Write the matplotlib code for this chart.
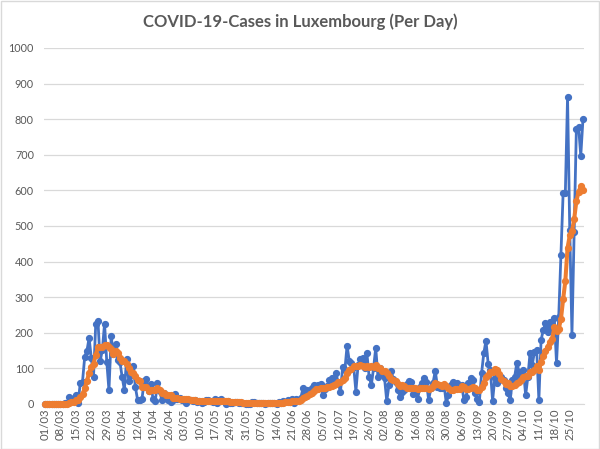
import matplotlib
matplotlib.use('Agg')
import matplotlib.pyplot as plt
from matplotlib.patches import Rectangle
import numpy as np

# Daily new cases (blue), 01/03 .. 31/10
cases_mar = [0, 0, 0, 0, 1, 0, 1, 1, 0, 2, 2, 19, 8, 17, 26, 4, 59, 63, 132, 149, 186, 128, 77, 224, 234, 120, 152, 226, 119, 38, 190]
cases_apr = [141, 168, 125, 117, 75, 39, 127, 64, 81, 108, 47, 11, 11, 15, 66, 71, 36, 57, 13, 8, 60, 36, 11, 30, 16, 12, 6, 12, 28, 15]
cases_may = [18, 10, 12, 4, 12, 11, 8, 12, 6, 9, 2, 6, 10, 11, 8, 7, 15, 2, 11, 13, 9, 1, 9, 3, 2, 6, 7, 4, 4, 2, 1]
cases_jun = [0, 1, 5, 6, 3, 2, 4, 2, 1, 4, 2, 4, 3, 1, 5, 3, 8, 6, 12, 7, 13, 4, 14, 12, 17, 44, 33, 39, 30, 46]
cases_jul = [53, 48, 52, 55, 25, 42, 50, 67, 72, 58, 86, 60, 33, 105, 96, 164, 121, 114, 105, 35, 110, 126, 130, 100, 142, 77, 53, 100, 158, 77, 100]
cases_aug = [85, 72, 8, 53, 92, 70, 63, 40, 21, 35, 40, 55, 65, 63, 27, 35, 13, 48, 60, 72, 63, 11, 44, 60, 93, 49, 44, 45, 53, 2, 25]
cases_sep = [53, 63, 49, 58, 45, 53, 11, 20, 58, 72, 67, 30, 15, 6, 86, 142, 178, 113, 95, 9, 72, 60, 67, 76, 67, 44, 30, 11, 67, 76]
cases_oct = [116, 91, 80, 95, 25, 76, 144, 110, 147, 153, 11, 180, 208, 227, 203, 231, 213, 242, 115, 245, 418, 593, 593, 862, 489, 195, 484, 772, 779, 697, 800]

# 7-day average (orange)
avg_mar = [0, 0, 0, 0, 0.1, 0.1, 0.3, 0.4, 0.4, 0.7, 1.0, 3.6, 4.7, 7.0, 10.6, 11.1, 19.3, 28.0, 44.1, 64.3, 88.4, 103.0, 113.4, 137.0, 161.4, 159.7, 160.1, 165.9, 164.6, 159.0, 154.1]
avg_apr = [140.9, 147.7, 143.9, 128.3, 122.0, 122.1, 113.1, 102.1, 89.7, 87.3, 77.3, 68.1, 64.1, 48.1, 48.4, 47.0, 36.7, 38.1, 38.4, 38.0, 44.4, 40.1, 31.6, 30.7, 24.9, 24.7, 24.4, 17.6, 16.4, 17.0]
avg_may = [15.3, 14.4, 14.4, 14.1, 14.1, 11.7, 10.7, 9.9, 9.3, 8.9, 8.6, 7.7, 7.6, 8.0, 7.4, 7.6, 8.4, 8.4, 9.1, 9.6, 9.3, 8.3, 8.6, 6.9, 6.9, 6.1, 5.3, 4.6, 5.0, 4.0, 3.7]
avg_jun = [3.4, 2.7, 2.4, 2.7, 2.6, 2.6, 3.0, 3.3, 3.3, 3.1, 2.6, 2.7, 2.9, 2.4, 2.9, 3.1, 3.7, 4.3, 5.4, 6.0, 7.7, 7.6, 9.1, 9.7, 11.3, 15.9, 19.6, 23.3, 27.0, 31.6]
avg_jul = [37.4, 41.9, 43.0, 46.1, 44.1, 45.9, 46.4, 48.4, 51.9, 52.7, 57.1, 62.1, 60.9, 68.7, 72.9, 86.0, 95.0, 99.0, 105.4, 105.7, 106.4, 110.7, 105.9, 102.9, 106.9, 102.9, 105.4, 104.0, 108.6, 101.0, 101.0]
avg_aug = [92.9, 92.1, 85.7, 79.0, 69.6, 68.6, 63.3, 56.9, 49.6, 53.4, 51.6, 46.3, 45.6, 45.6, 43.7, 45.7, 42.6, 43.7, 44.4, 45.4, 45.4, 43.1, 44.4, 51.1, 57.6, 56.0, 52.0, 49.4, 55.4, 49.4, 44.4]
avg_sep = [38.7, 40.7, 41.4, 43.3, 42.1, 49.4, 47.4, 42.7, 42.0, 45.3, 46.6, 44.4, 39.0, 38.3, 47.7, 59.7, 74.9, 81.4, 90.7, 89.9, 99.3, 95.6, 84.9, 70.3, 63.7, 56.4, 59.4, 50.7, 51.7, 53.0]
avg_oct = [58.7, 62.1, 67.3, 76.6, 78.6, 79.9, 89.6, 88.7, 96.7, 107.1, 95.1, 117.3, 136.1, 148.0, 161.3, 173.3, 181.9, 214.9, 205.6, 210.9, 238.1, 293.9, 345.6, 438.3, 473.6, 485.0, 519.1, 569.7, 596.3, 611.1, 602.3]

tick_labels = ['01/03', '08/03', '15/03', '22/03', '29/03', '05/04', '12/04', '19/04', '26/04',
               '03/05', '10/05', '17/05', '24/05', '31/05', '07/06', '14/06', '21/06', '28/06',
               '05/07', '12/07', '19/07', '26/07', '02/08', '09/08', '16/08', '23/08', '30/08',
               '06/09', '13/09', '20/09', '27/09', '04/10', '11/10', '18/10', '25/10']

cases = cases_mar + cases_apr + cases_may + cases_jun + cases_jul + cases_aug + cases_sep + cases_oct
avg = avg_mar + avg_apr + avg_may + avg_jun + avg_jul + avg_aug + avg_sep + avg_oct
days = np.arange(len(cases))

plt.rcParams['font.family'] = ['Lato', 'DejaVu Sans']

W, H = 600, 449
fig = plt.figure(figsize=(W / 100, H / 100), dpi=100)
left, right, top, bottom = 43.7, 584.3, 48, 404
ax = fig.add_axes([left / W, (H - bottom) / H, (right - left) / W, (bottom - top) / H])

ax.plot(days, cases, color='#4472C4', lw=2.0, marker='o', ms=4.2, zorder=3, clip_on=False)
ax.plot(days, avg, color='#ED7D31', lw=2.9, marker='o', ms=4.2, zorder=4, clip_on=False)

ax.set_xlim(-0.6, len(cases) - 0.4)
ax.set_ylim(0, 1000)
ax.set_yticks(range(0, 1001, 100))
ax.set_xticks(days[::7])
ax.set_xticklabels(tick_labels, rotation=90)
ax.grid(axis='y', color='#d9d9d9', lw=0.9)
ax.set_axisbelow(True)
for s in ['top', 'right', 'left']:
    ax.spines[s].set_visible(False)
ax.spines['bottom'].set_color('#d9d9d9')
ax.tick_params(axis='both', length=0, colors='#595959')
ax.tick_params(axis='y', pad=7, labelsize=7.8)
ax.tick_params(axis='x', pad=3, labelsize=8.2)

fig.text(0.5, 1 - 22 / H, 'COVID-19-Cases in Luxembourg (Per Day)', ha='center', va='center',
         fontsize=12, fontweight='bold', color='#595959')
fig.patches.append(Rectangle((0.5 / W, 0.5 / H), 1 - 1.5 / W, 1 - 1.5 / H, transform=fig.transFigure,
                             fill=False, ec='#d9d9d9', lw=1))

fig.savefig('out.png', dpi=100)
